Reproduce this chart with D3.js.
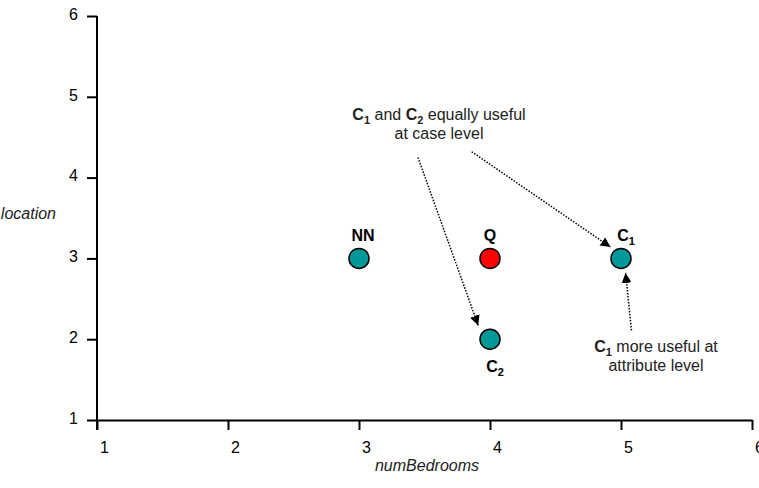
<!DOCTYPE html>
<html>
<head>
<meta charset="utf-8">
<script src="https://cdn.jsdelivr.net/npm/d3@7"></script>
<style>
  body { margin: 0; background: #fff; }
  svg { font-family: Arial, "Liberation Sans", sans-serif; }
</style>
</head>
<body>
<div id="chart"></div>
<script>
// data
var xTicks = [1, 2, 3, 4, 5, 6];
var yTicks = [1, 2, 3, 4, 5, 6];
var pointNames = ["NN", "Q", "C1", "C2"];
var pointX = [3, 4, 5, 4];
var pointY = [3, 3, 3, 2];
var pointColors = ["#009999", "#ff0000", "#009999", "#009999"];
// arrows in data units: [x0, y0, x1, y1]
var arrows = [
  [3.45, 4.25, 3.91, 2.17],
  [3.86, 4.32, 4.92, 3.14],
  [5.08, 2.11, 5.035, 2.82]
];

var width = 759, height = 488;
var svg = d3.select("#chart").append("svg")
    .attr("width", width)
    .attr("height", height);

var x = d3.scaleLinear().domain([1, 6]).range([97, 752]);
var y = d3.scaleLinear().domain([1, 6]).range([420, 16]);

// arrow head
svg.append("defs").append("marker")
    .attr("id", "head")
    .attr("viewBox", "0 0 10 10")
    .attr("refX", 10).attr("refY", 5)
    .attr("markerWidth", 10).attr("markerHeight", 10)
    .attr("markerUnits", "userSpaceOnUse")
    .attr("orient", "auto")
  .append("path")
    .attr("d", "M0,0L10,5L0,10Z")
    .attr("fill", "#000");

// axes
var xAxis = svg.append("g")
    .attr("transform", "translate(0,420)")
    .call(d3.axisBottom(x).tickValues(xTicks).tickFormat(d3.format("d")).tickSize(10).tickSizeOuter(0));
var yAxis = svg.append("g")
    .attr("transform", "translate(97,0)")
    .call(d3.axisLeft(y).tickValues(yTicks).tickFormat(d3.format("d")).tickSize(10).tickSizeOuter(0));

[xAxis, yAxis].forEach(function(a) {
  a.attr("font-size", 16).attr("font-family", "Arial, 'Liberation Sans', sans-serif");
  a.select(".domain").attr("stroke", "#000").attr("stroke-width", 2);
  a.selectAll(".tick line").attr("stroke", "#000").attr("stroke-width", 2);
  a.selectAll("text").attr("fill", "#000");
});
xAxis.selectAll("text").attr("dx", 7).attr("y", 33).attr("dy", 0);
yAxis.selectAll("text").attr("x", -19).attr("dy", "0.2em");

// y domain needs to reach down to the x tick
yAxis.select(".domain").attr("d", "M0,16V430");

// axis titles
svg.append("text")
    .attr("x", 427).attr("y", 471)
    .attr("text-anchor", "middle")
    .attr("fill", "#222")
    .style("font-style", "italic").style("font-size", "16px")
    .text("numBedrooms");
svg.append("text")
    .attr("x", 56).attr("y", 219)
    .attr("text-anchor", "end")
    .attr("fill", "#222")
    .style("font-style", "italic").style("font-size", "16px")
    .text("location");

// arrows
svg.selectAll(".arrow")
    .data(arrows)
  .enter().append("line")
    .attr("class", "arrow")
    .attr("x1", d => x(d[0])).attr("y1", d => y(d[1]))
    .attr("x2", d => x(d[2])).attr("y2", d => y(d[3]))
    .attr("stroke", "#000")
    .attr("stroke-width", 1.5)
    .attr("stroke-dasharray", "1.5,1.5")
    .attr("marker-end", "url(#head)");

// points
svg.selectAll(".pt")
    .data(pointNames)
  .enter().append("circle")
    .attr("class", "pt")
    .attr("cx", (d, i) => x(pointX[i]))
    .attr("cy", (d, i) => y(pointY[i]))
    .attr("r", 10)
    .attr("fill", (d, i) => pointColors[i])
    .attr("stroke", "#000")
    .attr("stroke-width", 1.5);

// point labels (C labels get a subscript)
function label(txt, sub, px, py) {
  var t = svg.append("text")
      .attr("x", px).attr("y", py)
      .attr("text-anchor", "middle")
      .style("font-weight", "bold").style("font-size", "16px");
  t.append("tspan").text(txt);
  if (sub) t.append("tspan").attr("dy", 4).style("font-size", "11px").text(sub);
  return t;
}
label("NN", null, x(3) + 4, y(3) - 17);
label("Q", null, x(4), y(3) - 17);
label("C", "1", x(5) + 5, y(3) - 17);
label("C", "2", x(4) + 5, y(2) + 33);

// annotations
function sub(t, s) {
  t.append("tspan").style("font-weight", "bold").text("C");
  t.append("tspan").attr("dy", 4).style("font-size", "11px").style("font-weight", "bold").text(s);
}
var a1 = svg.append("text").attr("x", 439).attr("y", 120)
    .attr("text-anchor", "middle").style("font-size", "16px").attr("fill", "#222");
sub(a1, "1");
a1.append("tspan").attr("dy", -4).text(" and ");
sub(a1, "2");
a1.append("tspan").attr("dy", -4).text(" equally useful");
svg.append("text").attr("x", 439).attr("y", 139)
    .attr("text-anchor", "middle").style("font-size", "16px").attr("fill", "#222")
    .text("at case level");

var a2 = svg.append("text").attr("x", 656).attr("y", 352)
    .attr("text-anchor", "middle").style("font-size", "16px").attr("fill", "#222");
sub(a2, "1");
a2.append("tspan").attr("dy", -4).text(" more useful at");
svg.append("text").attr("x", 656).attr("y", 371)
    .attr("text-anchor", "middle").style("font-size", "16px").attr("fill", "#222")
    .text("attribute level");
</script>
</body>
</html>
